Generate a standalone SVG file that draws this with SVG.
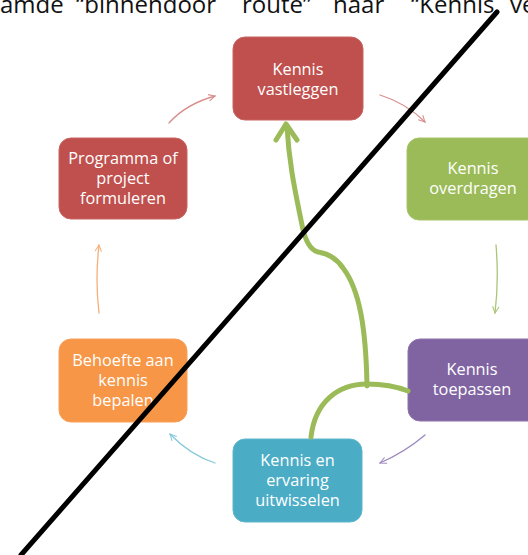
<svg xmlns="http://www.w3.org/2000/svg" width="528" height="555" viewBox="0 0 528 555">
<style>
.box{stroke-width:1}
.lbl{font-family:"Open Sans","Liberation Sans",sans-serif;font-size:16.3px;fill:#ffffff;text-anchor:middle}
.thin{fill:none;stroke-width:1.3;stroke-linecap:round}
.top{font-family:"Open Sans","Liberation Sans",sans-serif;font-size:24px;fill:#111}
</style>
<defs>
<marker id="mr" viewBox="0 0 10 10" refX="9" refY="5" markerWidth="8" markerHeight="8" markerUnits="userSpaceOnUse" orient="auto"><path d="M1,1 L9,5 L1,9" fill="none" stroke="#D98E8C" stroke-width="1.3"/></marker>
<marker id="mg" viewBox="0 0 10 10" refX="9" refY="5" markerWidth="8" markerHeight="8" markerUnits="userSpaceOnUse" orient="auto"><path d="M1,1 L9,5 L1,9" fill="none" stroke="#A9C578" stroke-width="1.3"/></marker>
<marker id="mp" viewBox="0 0 10 10" refX="9" refY="5" markerWidth="8" markerHeight="8" markerUnits="userSpaceOnUse" orient="auto"><path d="M1,1 L9,5 L1,9" fill="none" stroke="#9C87BE" stroke-width="1.3"/></marker>
<marker id="mt" viewBox="0 0 10 10" refX="9" refY="5" markerWidth="8" markerHeight="8" markerUnits="userSpaceOnUse" orient="auto"><path d="M1,1 L9,5 L1,9" fill="none" stroke="#86C8DA" stroke-width="1.3"/></marker>
<marker id="mo" viewBox="0 0 10 10" refX="9" refY="5" markerWidth="8" markerHeight="8" markerUnits="userSpaceOnUse" orient="auto"><path d="M1,1 L9,5 L1,9" fill="none" stroke="#F5B07A" stroke-width="1.3"/></marker>
</defs>
<rect width="528" height="555" fill="#ffffff"/>
<text class="top" y="13"><tspan x="0">amde</tspan><tspan x="76">“binnendoor</tspan><tspan x="242">route”</tspan><tspan x="333">naar</tspan><tspan x="411">“Kennis</tspan><tspan x="510">ve</tspan></text>

<g id="n1"><rect class="box" x="233" y="37" width="130" height="83" rx="12" fill="#C0504D" stroke="#C86461"/><text class="lbl" x="298" y="75">Kennis</text><text class="lbl" x="298" y="95">vastleggen</text></g>
<g id="n2"><rect class="box" x="407" y="138" width="132" height="82" rx="12" fill="#9BBB59" stroke="#A6C36B"/><text class="lbl" x="473" y="174">Kennis</text><text class="lbl" x="473" y="194">overdragen</text></g>
<g id="n3"><rect class="box" x="408" y="339" width="132" height="82" rx="12" fill="#8064A2" stroke="#8D73AD"/><text class="lbl" x="472" y="375">Kennis</text><text class="lbl" x="472" y="395">toepassen</text></g>
<g id="n4"><rect class="box" x="233" y="439" width="129" height="83" rx="12" fill="#4BACC6" stroke="#5FB6CD"/><text class="lbl" x="297.5" y="466">Kennis en</text><text class="lbl" x="297.5" y="486">ervaring</text><text class="lbl" x="297.5" y="506">uitwisselen</text></g>
<g id="n5"><rect class="box" x="59" y="339" width="128" height="83" rx="12" fill="#F79646" stroke="#F8A05A"/><text class="lbl" x="123" y="366">Behoefte aan</text><text class="lbl" x="123" y="386">kennis</text><text class="lbl" x="123" y="406">bepalen</text></g>
<g id="n6"><rect class="box" x="59" y="138" width="128" height="81" rx="12" fill="#C0504D" stroke="#C86461"/><text class="lbl" x="123" y="164">Programma of</text><text class="lbl" x="123" y="184">project</text><text class="lbl" x="123" y="204">formuleren</text></g>

<g id="connectors">
<path class="thin" d="M169,123 Q186,104 215,96" stroke="#D98E8C" marker-end="url(#mr)"/>
<path class="thin" d="M380,95 Q406,103 425,122" stroke="#D98E8C" marker-end="url(#mr)"/>
<path class="thin" d="M496,245 Q499,280 495,313" stroke="#A9C578" marker-end="url(#mg)"/>
<path class="thin" d="M425,435 Q405,452 380,463" stroke="#9C87BE" marker-end="url(#mp)"/>
<path class="thin" d="M215,463 Q190,455 170,434" stroke="#86C8DA" marker-end="url(#mt)"/>
<path class="thin" d="M99,313 Q95,280 99,245" stroke="#F5B07A" marker-end="url(#mo)"/>
<g fill="none" stroke="#9BBB59" stroke-width="5" stroke-linecap="round" stroke-linejoin="round">
<path d="M311,437 C315,402 338,384 367,384 C385,384 398,387 408,391"/>
<path d="M367,386 C366,330 360,290 343,268 C335,256 325,253 318,252 C310,250 305,240 302,225 C296,195 289,165 287,126"/>
<path d="M276,140 L286,124 L297,140"/>
</g>
</g>
<line x1="21" y1="555" x2="497" y2="12" stroke="#000" stroke-width="5" stroke-linecap="round"/>
</svg>
